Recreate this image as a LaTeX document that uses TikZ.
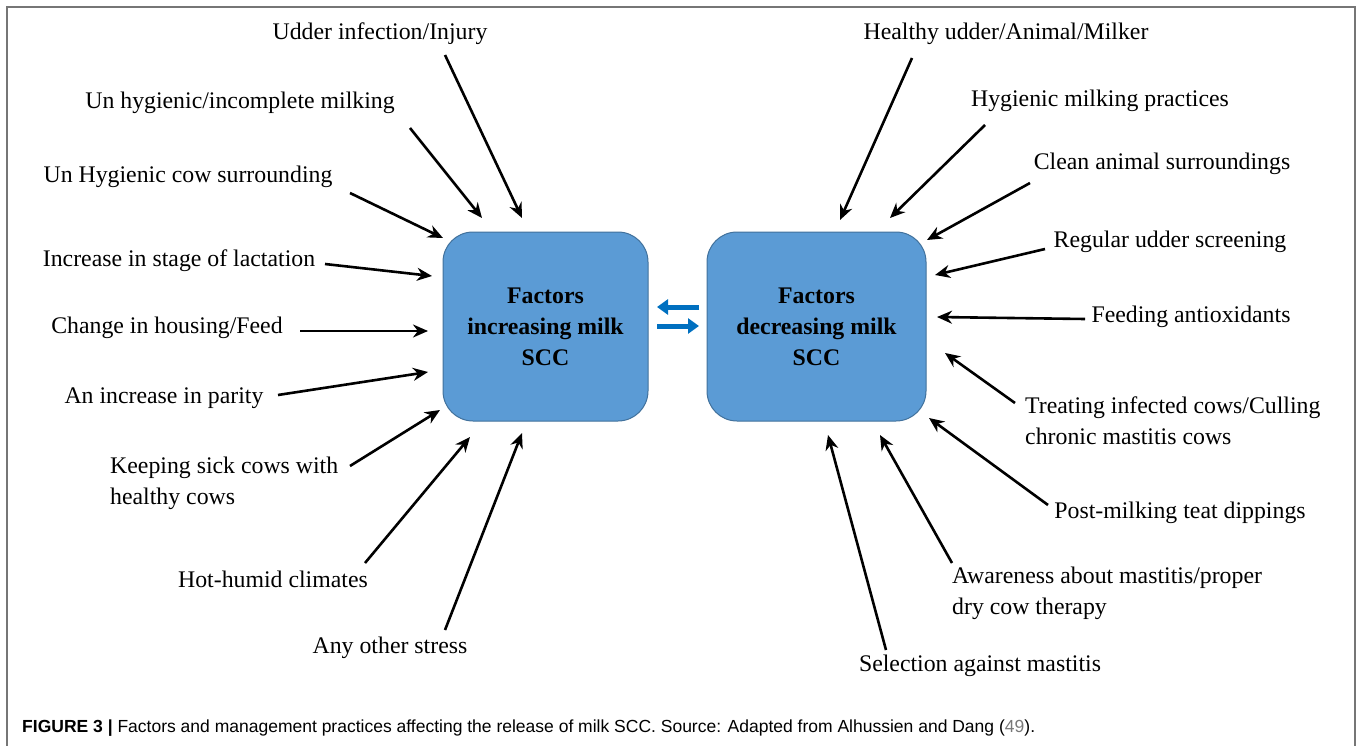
\documentclass[tikz,border=0pt]{standalone}
\usepackage{fontspec}
\setmainfont{Liberation Serif}
\newfontfamily\capfont{Liberation Sans}
\usetikzlibrary{arrows.meta}
\definecolor{boxfill}{RGB}{91,155,213}
\definecolor{boxline}{RGB}{65,113,156}
\definecolor{bluearr}{RGB}{0,112,192}
\definecolor{framegray}{RGB}{118,118,118}
\definecolor{refgray}{RGB}{120,120,120}
\begin{document}
\begin{tikzpicture}[x=1pt,y=-1pt,
 lbl/.style={inner sep=0pt, font=\fontsize{23.8}{31}\selectfont},
 mlbl/.style={lbl, align=left, anchor=west},
 factorbox/.style={draw=boxline, line width=1pt, fill=boxfill, rounded corners=30pt, inner sep=0pt, align=center, font=\fontsize{23.8}{31}\selectfont\bfseries},
 arr/.style={line width=2.6pt, -{Stealth[length=15pt,width=13pt]}},
 barr/.style={draw=bluearr, line width=5pt, -{Triangle[length=11pt,width=15pt]}}
]
\useasboundingbox (0,0) rectangle (1357,746);
\draw[framegray, line width=2pt] (7,746) -- (7,7) -- (1355,7) -- (1355,746);

% boxes
\node[factorbox, minimum width=205pt, minimum height=189pt] (inc) at (545.5,326.5) {Factors\\increasing milk\\SCC};
\node[factorbox, minimum width=219pt, minimum height=189pt] (dec) at (816.5,326.5) {Factors\\decreasing milk\\SCC};

% blue arrows between boxes
\coordinate (ba1) at (699,307);
\coordinate (ba2) at (657,307);
\coordinate (bb1) at (657,326);
\coordinate (bb2) at (699,326);
\draw[barr] (ba1) -- (ba2);
\draw[barr] (bb1) -- (bb2);

% left labels
\node[lbl] (l1) at (380,34) {Udder infection/Injury};
\node[lbl] (l2) at (240,103) {Un hygienic/incomplete milking};
\node[lbl] (l3) at (188,177) {Un Hygienic cow surrounding};
\node[lbl] (l4) at (179,261) {Increase in stage of lactation};
\node[lbl] (l5) at (167,328) {Change in housing/Feed};
\node[lbl] (l6) at (164,398) {An increase in parity};
\node[mlbl] (l7) at (110,483) {Keeping sick cows with\\healthy cows};
\node[lbl] (l8) at (273,579) {Hot-humid climates};
\node[lbl] (l9) at (390,648) {Any other stress};

% right labels
\node[lbl] (r1) at (1006,34) {Healthy udder/Animal/Milker};
\node[lbl] (r2) at (1100,101) {Hygienic milking practices};
\node[lbl] (r3) at (1162,164) {Clean animal surroundings};
\node[lbl] (r4) at (1170,242) {Regular udder screening};
\node[lbl] (r5) at (1191,317) {Feeding antioxidants};
\node[mlbl] (r6) at (1025,421) {Treating infected cows/Culling\\chronic mastitis cows};
\node[lbl] (r7) at (1180,513) {Post-milking teat dippings};
\node[mlbl] (r8) at (952,593) {Awareness about mastitis/proper\\dry cow therapy};
\node[lbl] (r9) at (980,666) {Selection against mastitis};

% arrow end points (left)
\coordinate (lt1) at (445,55);  \coordinate (lh1) at (522,218);
\coordinate (lt2) at (410,128); \coordinate (lh2) at (482,218);
\coordinate (lt3) at (350,193); \coordinate (lh3) at (443,238);
\coordinate (lt4) at (325,264); \coordinate (lh4) at (432,276);
\coordinate (lt5) at (300,331); \coordinate (lh5) at (428,331);
\coordinate (lt6) at (278,395); \coordinate (lh6) at (428,372);
\coordinate (lt7) at (350,466); \coordinate (lh7) at (440,410);
\coordinate (lt8) at (365,563); \coordinate (lh8) at (470,437);
\coordinate (lt9) at (445,630); \coordinate (lh9) at (522,433);
\foreach \i in {1,...,9} \draw[arr] (lt\i) -- (lh\i);

% arrow end points (right)
\coordinate (rt1) at (912,58);   \coordinate (rh1) at (840,220);
\coordinate (rt2) at (985,125);  \coordinate (rh2) at (890,218);
\coordinate (rt3) at (1030,183); \coordinate (rh3) at (927,240);
\coordinate (rt4) at (1045,249); \coordinate (rh4) at (935,275);
\coordinate (rt5) at (1085,319); \coordinate (rh5) at (937,317);
\coordinate (rt6) at (1015,403); \coordinate (rh6) at (945,353);
\coordinate (rt7) at (1048,505); \coordinate (rh7) at (929,418);
\coordinate (rt8) at (952,563);  \coordinate (rh8) at (880,435);
\coordinate (rt9) at (886,650);  \coordinate (rh9) at (828,435);
\foreach \i in {1,...,9} \draw[arr] (rt\i) -- (rh\i);

% caption
\node[inner sep=0pt, anchor=west, font=\capfont\fontsize{17.5}{20}\selectfont] (cap) at (22,728)
 {\textbf{FIGURE 3 |} Factors and management practices affecting the release of milk SCC. Source: Adapted from Alhussien and Dang ({\color{refgray}49}).};
\end{tikzpicture}
\end{document}
